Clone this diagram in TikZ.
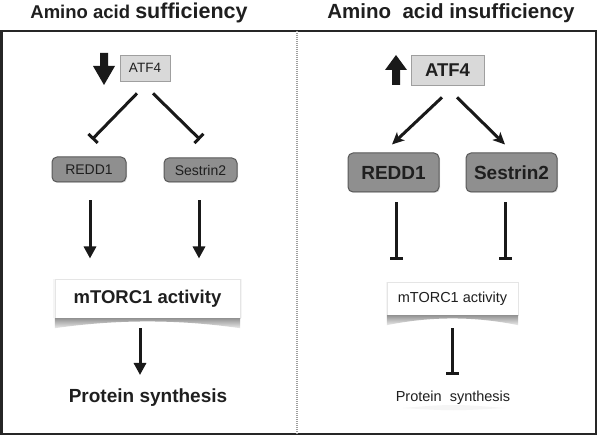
\documentclass[tikz,border=0pt]{standalone}
\usepackage{fontspec}
\setmainfont{Liberation Sans}
\usetikzlibrary{arrows.meta,shadows}
\newcommand{\fsz}[1]{\fontsize{#1}{#1}\selectfont}
\begin{document}
\begin{tikzpicture}[x=1pt,y=-1pt,
  txt/.style={text=black!88, inner sep=0pt},
  atfbox/.style={draw=gray!75, fill=gray!30, line width=0.7pt, inner sep=0pt, text=black!88},
  genebox/.style={draw=black!65, fill=gray!88, rounded corners=5pt, line width=1pt, inner sep=0pt, text=black!88,
    drop shadow={shadow xshift=1pt, shadow yshift=-1pt, opacity=0.25}},
  curlbox/.style={draw=gray!20, fill=white, inner sep=0pt, text=black!88,
    drop shadow={shadow xshift=0pt, shadow yshift=0pt, opacity=0.08, shadow scale=1.02}},
  arr/.style={line width=3pt, black!90, -{Triangle[length=12pt,width=12pt]}},
  sarr/.style={line width=3pt, black!90, -{Stealth[length=12pt,width=11pt,inset=3pt]}},
  inhib/.style={line width=3pt, black!90, -{Bar[width=13pt,line width=3pt]}},
  blockarrow/.style={fill=black!90},
  shadowfill/.style={top color=gray!85, bottom color=gray!15, draw=none}
]
\useasboundingbox (0,0) rectangle (600,438);
\fill[white] (0,0) rectangle (600,438);

% frame
\draw[line width=2.6pt, black!85] (1.5,31) rectangle (596,434);
\draw[line width=1.5pt, gray!75, dash pattern=on 1pt off 1pt] (297,31) -- (297,434);

% titles
\node[txt, anchor=base] (titleL) at (139,18.5) {\bfseries\fsz{18.5}Amino acid \fsz{21.5}sufficiency};
\node[txt, anchor=base] (titleR) at (451,18.5) {\bfseries\fsz{20.5}Amino\ \ acid insufficiency};

% ---------- left panel ----------
\fill[blockarrow] (100,53) -- (108,53) -- (108,66) -- (115,66) -- (104,85) -- (93,66) -- (100,66) -- cycle;
\node[atfbox, minimum width=50pt, minimum height=26pt] (atfL) at (145,68) {\fsz{13.5}ATF4};
\node[genebox, minimum width=74pt, minimum height=25pt] (reddL) at (89,169.5) {\fsz{14}REDD1};
\node[genebox, minimum width=73pt, minimum height=24pt] (sesL) at (200.5,170) {\fsz{14}Sestrin2};
\node[curlbox, minimum width=185pt, minimum height=39pt] (mtorL) at (147.5,298.5) {\bfseries\fsz{18.5}mTORC1 activity};
\shade[shadowfill] (mtorL.south west) -- (mtorL.south east) -- ([shift={(0,10)}]mtorL.south east)
  .. controls ([shift={(30,1)}]mtorL.south) and ([shift={(-30,1)}]mtorL.south) .. ([shift={(0,10)}]mtorL.south west) -- cycle;
\node[txt] (protL) at (148,398) {\bfseries\fsz{19}Protein synthesis};

\draw[inhib] ([shift={(-8,12)}]atfL.south) -- ([shift={(3,-17)}]reddL.north);
\draw[inhib] ([shift={(8,12)}]atfL.south) -- ([shift={(-0.5,-18)}]sesL.north);
\draw[arr] ([shift={(1,18)}]reddL.south) -- ([shift={(1,76)}]reddL.south);
\draw[arr] ([shift={(-1.5,18)}]sesL.south) -- ([shift={(-1.5,76)}]sesL.south);
\draw[arr] ([shift={(-7.5,10)}]mtorL.south) -- ([shift={(-8,-23)}]protL.center);

% ---------- right panel ----------
\fill[blockarrow] (396,55) -- (407,70) -- (400,70) -- (400,85) -- (392,85) -- (392,70) -- (385,70) -- cycle;
\node[atfbox, minimum width=73pt, minimum height=30pt] (atfR) at (447.5,70) {\bfseries\fsz{18.5}ATF4};
\node[genebox, minimum width=91pt, minimum height=39pt] (reddR) at (393.5,172.5) {\bfseries\fsz{19}REDD1};
\node[genebox, minimum width=91pt, minimum height=39pt] (sesR) at (511.5,172.5) {\bfseries\fsz{19}Sestrin2};
\node[curlbox, minimum width=131pt, minimum height=33pt] (mtorR) at (452.5,298.5) {\fsz{14.5}mTORC1 activity};
\shade[shadowfill] (mtorR.south west) -- (mtorR.south east) -- ([shift={(0,10)}]mtorR.south east)
  .. controls ([shift={(22,1)}]mtorR.south) and ([shift={(-22,1)}]mtorR.south) .. ([shift={(0,10)}]mtorR.south west) -- cycle;
\node[txt] (protR) at (453,398) {\fsz{14.5}Protein\ \ synthesis};
\fill[gray!8] ([shift={(-50,10)}]protR.center) .. controls ([shift={(0,6)}]protR.center) .. ([shift={(52,10)}]protR.center)
  .. controls ([shift={(0,13)}]protR.center) .. cycle;

\draw[sarr] ([shift={(-5.5,12)}]atfR.south) -- ([shift={(-1.5,-8)}]reddR.north);
\draw[sarr] ([shift={(9.5,12)}]atfR.south) -- ([shift={(-6.5,-8)}]sesR.north);
\draw[inhib] ([shift={(2.5,10)}]reddR.south) -- ([shift={(2.5,68)}]reddR.south);
\draw[inhib] ([shift={(-6.5,10)}]sesR.south) -- ([shift={(-6.5,68)}]sesR.south);
\draw[inhib] ([shift={(-0.5,13)}]mtorR.south) -- ([shift={(-1,-23)}]protR.center);
\end{tikzpicture}
\end{document}
